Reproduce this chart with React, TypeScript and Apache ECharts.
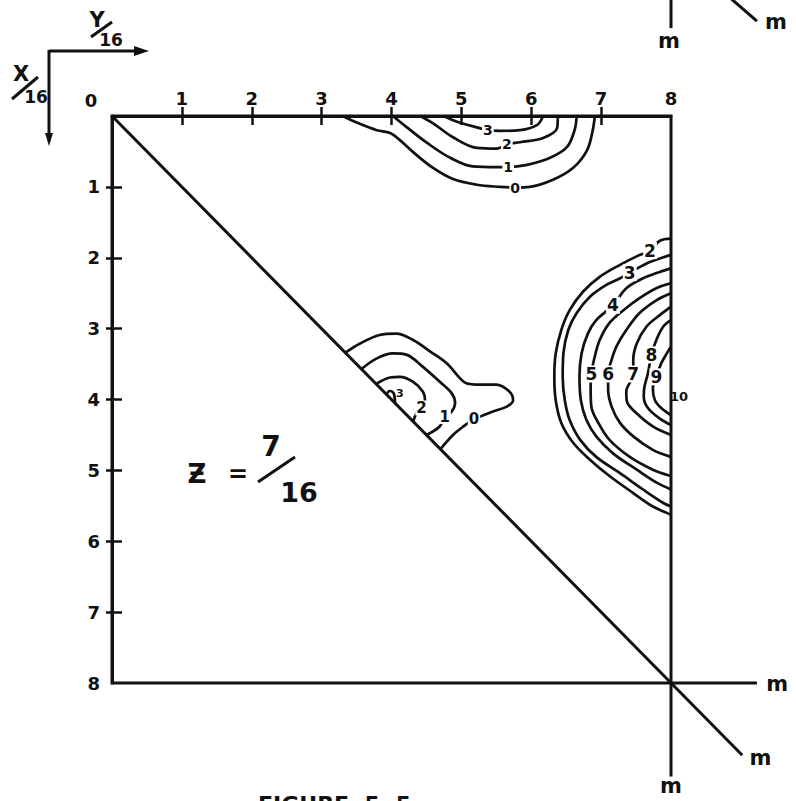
import { useEffect, useRef } from "react";
import * as echarts from "echarts";

// Coordinates are [y/16 (across the top), x/16 (down the side)].
type Pt = [number, number];

const axisMin = 0;
const axisMax = 8;
const tickValues = [1, 2, 3, 4, 5, 6, 7];
const labelValues = [1, 2, 3, 4, 5, 6, 7, 8];

// Straight reference lines as [from across, from down, to across, to down]:
// the symmetry diagonal and the m-m lines at the corners
const referenceSegments: [number, number, number, number][] = [
  [0, 0, 9.02, 9.02],
  [8, 8, 9.23, 8],
  [8, 8, 8, 9.32],
  [8, -1.8, 8, -1.24],
  [8.69, -1.8, 9.23, -1.34],
];
const mLabelPoints: Pt[] = [[9.52, 8.02], [9.28, 9.06], [8.0, 9.46], [7.97, -1.06], [9.5, -1.33]];

// Peak along the top edge (levels 0-3)
const topContour0: Pt[] = [
  [3.3, 0], [3.52, 0.1], [3.79, 0.2], [3.98, 0.24], [4.12, 0.34], [4.31, 0.51], [4.59, 0.73],
  [4.88, 0.89], [5.22, 0.97], [5.55, 1.0], [5.77, 1.01], [5.98, 1.0], [6.31, 0.9], [6.6, 0.73],
  [6.8, 0.48], [6.88, 0.2], [6.91, 0],
];
const topContour1: Pt[] = [
  [4.02, 0], [4.22, 0.16], [4.51, 0.38], [4.84, 0.59], [5.16, 0.71], [5.51, 0.72], [5.67, 0.72],
  [5.94, 0.69], [6.27, 0.59], [6.51, 0.44], [6.62, 0.2], [6.65, 0],
];
const topContour2: Pt[] = [
  [4.41, 0], [4.59, 0.1], [4.88, 0.3], [5.22, 0.45], [5.51, 0.46], [5.65, 0.4], [5.84, 0.37],
  [6.17, 0.31], [6.37, 0.17], [6.38, 0],
];
const topContour3: Pt[] = [
  [4.74, 0], [4.94, 0.08], [5.22, 0.16], [5.38, 0.2], [5.55, 0.21], [5.84, 0.2], [6.08, 0.13],
  [6.17, 0],
];
const topLabels: [number, number, string][] = [
  [5.77, 1.01, "0"], [5.67, 0.72, "1"], [5.65, 0.4, "2"], [5.38, 0.2, "3"],
];

// Peak on the right edge (levels 2-10)
const rightContour2: Pt[] = [
  [8, 1.73], [7.84, 1.76], [7.7, 1.9], [7.53, 1.97], [7.27, 2.1], [6.98, 2.27], [6.74, 2.48],
  [6.55, 2.74], [6.43, 3.02], [6.35, 3.35], [6.33, 3.68], [6.35, 4.01], [6.43, 4.33], [6.6, 4.61],
  [6.84, 4.85], [7.12, 5.08], [7.46, 5.32], [7.74, 5.51], [7.94, 5.6], [8, 5.63],
];
const rightContour3: Pt[] = [
  [8, 1.96], [7.84, 2.01], [7.65, 2.08], [7.41, 2.21], [7.27, 2.29], [7.08, 2.38], [6.84, 2.55],
  [6.65, 2.78], [6.53, 3.02], [6.46, 3.35], [6.45, 3.68], [6.48, 4.01], [6.55, 4.29], [6.7, 4.57],
  [6.93, 4.81], [7.27, 5.04], [7.6, 5.27], [7.89, 5.46], [8, 5.51],
];
const rightContour4: Pt[] = [
  [8, 2.15], [7.84, 2.2], [7.6, 2.29], [7.36, 2.43], [7.17, 2.67], [6.93, 2.88], [6.81, 3.07],
  [6.72, 3.35], [6.69, 3.68], [6.71, 4.01], [6.79, 4.29], [6.93, 4.52], [7.17, 4.76], [7.51, 4.99],
  [7.79, 5.17], [8, 5.27],
];
const rightContour5: Pt[] = [
  [8, 2.36], [7.79, 2.43], [7.55, 2.57], [7.32, 2.74], [7.12, 2.92], [6.98, 3.16], [6.91, 3.39],
  [6.86, 3.64], [6.85, 3.86], [6.86, 4.1], [6.96, 4.33], [7.12, 4.57], [7.41, 4.81], [7.74, 4.99],
  [8, 5.08],
];
const rightContour6: Pt[] = [
  [8, 2.5], [7.79, 2.6], [7.55, 2.78], [7.36, 3.02], [7.22, 3.25], [7.15, 3.44], [7.1, 3.64],
  [7.1, 3.86], [7.15, 4.1], [7.27, 4.33], [7.46, 4.52], [7.74, 4.71], [8, 4.81],
];
const rightContour7: Pt[] = [
  [8, 2.69], [7.84, 2.81], [7.65, 2.97], [7.51, 3.21], [7.46, 3.44], [7.46, 3.64], [7.36, 3.89],
  [7.37, 4.03], [7.48, 4.17], [7.74, 4.38], [8, 4.5],
];
const rightContour8: Pt[] = [
  [8, 2.88], [7.89, 2.97], [7.79, 3.16], [7.72, 3.37], [7.67, 3.63], [7.62, 3.82], [7.61, 3.96],
  [7.67, 4.12], [7.84, 4.27], [8, 4.36],
];
const rightContour9: Pt[] = [
  [8, 3.25], [7.94, 3.35], [7.86, 3.49], [7.79, 3.68], [7.74, 3.84], [7.77, 4.01], [7.86, 4.12],
  [8, 4.22],
];
const rightLabels: [number, number, string][] = [
  [7.7, 1.9, "2"], [7.41, 2.21, "3"], [7.17, 2.67, "4"], [6.86, 3.64, "5"], [7.1, 3.64, "6"],
  [7.46, 3.64, "7"], [7.72, 3.37, "8"], [7.79, 3.68, "9"],
];
const peakLabel: [number, number, string][] = [[8, 3.96, "10"]];

// Ridge against the diagonal (levels 0-3)
const diagContour0: Pt[] = [
  [3.34, 3.34], [3.55, 3.21], [3.83, 3.09], [4.07, 3.07], [4.31, 3.16], [4.55, 3.32], [4.79, 3.49],
  [4.98, 3.7], [5.07, 3.77], [5.26, 3.79], [5.5, 3.79], [5.69, 3.89], [5.74, 4.01], [5.65, 4.1],
  [5.45, 4.17], [5.18, 4.28], [5.03, 4.38], [4.88, 4.5], [4.7, 4.7],
];
const diagContour1: Pt[] = [
  [3.57, 3.57], [3.79, 3.42], [4.02, 3.35], [4.22, 3.37], [4.45, 3.54], [4.69, 3.75], [4.86, 3.91],
  [4.91, 4.05], [4.86, 4.17], [4.76, 4.24], [4.69, 4.38], [4.5, 4.5],
];
const diagContour2: Pt[] = [
  [3.78, 3.78], [3.98, 3.69], [4.12, 3.68], [4.31, 3.75], [4.45, 3.89], [4.48, 4.01], [4.43, 4.12],
  [4.36, 4.19], [4.31, 4.31],
];
const diagContour3: Pt[] = [[3.93, 3.93], [3.97, 3.88], [4.03, 3.91], [4.05, 4.05]];
const diagLabels: [number, number, string][] = [
  [4.43, 4.12, "2"], [4.76, 4.24, "1"], [5.18, 4.28, "0"],
];
const diagSmallLabel: [number, number, string][] = [[4.12, 3.92, "3"]];

const INK = "#111";
const FONT = "DejaVu Sans";

const contourLine = (data: Pt[], width = 2.7) => ({
  type: "line",
  data,
  symbol: "none",
  smooth: 0.35,
  clip: false,
  silent: true,
  lineStyle: { color: INK, width },
  z: 3,
});

const labelSeries = (data: [number, number, string][], fontSize: number, extra: any = {}) => ({
  type: "scatter",
  data: data.map(([x, y, t]) => ({ value: [x, y], name: t })),
  symbolSize: 0,
  clip: false,
  silent: true,
  z: 6,
  itemStyle: { opacity: 1 },
  label: {
    show: true,
    position: "inside",
    formatter: (p: any) => p.name,
    color: INK,
    fontSize,
    fontWeight: "bold",
    fontFamily: FONT,
    backgroundColor: "#fff",
    padding: [0, 1],
    ...extra,
  },
});

const tickStyle = { color: INK, width: 2.5 };

const option: any = {
  animation: false,
  backgroundColor: "#fff",
  grid: {
    left: 112,
    top: 116,
    width: 559,
    height: 567,
    show: true,
    borderColor: INK,
    borderWidth: 3,
    backgroundColor: "transparent",
  },
  xAxis: [
    {
      type: "value",
      position: "top",
      min: axisMin,
      max: axisMax,
      interval: 1,
      axisLine: { show: true, onZero: false, lineStyle: { color: INK, width: 3 } },
      axisTick: { show: true, inside: false, length: 9, customValues: tickValues, lineStyle: tickStyle },
      axisLabel: {
        show: true,
        customValues: labelValues,
        margin: 9,
        color: INK,
        fontSize: 18,
        fontWeight: "bold",
        fontFamily: FONT,
      },
      splitLine: { show: false },
    },
    {
      type: "value",
      position: "top",
      min: axisMin,
      max: axisMax,
      interval: 1,
      axisLine: { show: false, onZero: false },
      axisTick: { show: true, inside: true, length: 9, customValues: tickValues, lineStyle: tickStyle },
      axisLabel: { show: false },
      splitLine: { show: false },
    },
  ],
  yAxis: [
    {
      type: "value",
      inverse: true,
      position: "left",
      min: axisMin,
      max: axisMax,
      interval: 1,
      axisLine: { show: true, onZero: false, lineStyle: { color: INK, width: 3 } },
      axisTick: { show: true, inside: false, length: 6, customValues: tickValues, lineStyle: tickStyle },
      axisLabel: {
        show: true,
        customValues: labelValues,
        margin: 12,
        color: INK,
        fontSize: 18,
        fontWeight: "bold",
        fontFamily: FONT,
      },
      splitLine: { show: false },
    },
    {
      type: "value",
      inverse: true,
      position: "left",
      min: axisMin,
      max: axisMax,
      interval: 1,
      axisLine: { show: false, onZero: false },
      axisTick: { show: true, inside: true, length: 10, customValues: tickValues, lineStyle: tickStyle },
      axisLabel: { show: false },
      splitLine: { show: false },
    },
  ],
  graphic: [
    // origin label shared by both axes
    { type: "text", x: 91, y: 100, style: { text: "0", fill: INK, font: `bold 18px '${FONT}'`, align: "center", verticalAlign: "middle" } },
    // direction arrows: y/16 across, x/16 down
    { type: "line", shape: { x1: 49, y1: 51, x2: 140, y2: 51 }, style: { stroke: INK, lineWidth: 3 } },
    { type: "polygon", shape: { points: [[134, 46], [149, 51], [134, 56]] }, style: { fill: INK } },
    { type: "line", shape: { x1: 49, y1: 50, x2: 49, y2: 134 }, style: { stroke: INK, lineWidth: 3 } },
    { type: "polygon", shape: { points: [[45, 133], [53, 133], [49, 146]] }, style: { fill: INK } },
    { type: "text", x: 97, y: 20, style: { text: "Y", fill: INK, font: `bold 21px '${FONT}'`, align: "center", verticalAlign: "middle" } },
    { type: "line", shape: { x1: 91, y1: 37, x2: 112, y2: 22 }, style: { stroke: INK, lineWidth: 3 } },
    { type: "text", x: 111, y: 40, style: { text: "16", fill: INK, font: `bold 17px '${FONT}'`, align: "center", verticalAlign: "middle" } },
    { type: "text", x: 21, y: 74, style: { text: "X", fill: INK, font: `bold 21px '${FONT}'`, align: "center", verticalAlign: "middle" } },
    { type: "line", shape: { x1: 12, y1: 99, x2: 38, y2: 77 }, style: { stroke: INK, lineWidth: 3 } },
    { type: "text", x: 36, y: 97, style: { text: "16", fill: INK, font: `bold 17px '${FONT}'`, align: "center", verticalAlign: "middle" } },
    // section height
    { type: "text", x: 197, y: 474, style: { text: "\u01B5", fill: INK, font: `bold 26px '${FONT}'`, align: "center", verticalAlign: "middle" } },
    { type: "text", x: 238, y: 474, style: { text: "=", fill: INK, font: `bold 24px '${FONT}'`, align: "center", verticalAlign: "middle" } },
    { type: "text", x: 271, y: 446, style: { text: "7", fill: INK, font: `bold 28px '${FONT}'`, align: "center", verticalAlign: "middle" } },
    { type: "line", shape: { x1: 258, y1: 482, x2: 295, y2: 457 }, style: { stroke: INK, lineWidth: 3 } },
    { type: "text", x: 299, y: 492, style: { text: "16", fill: INK, font: `bold 27px '${FONT}'`, align: "center", verticalAlign: "middle" } },
    // caption, cut by the bottom edge
    { type: "text", x: 258, y: 793, style: { text: "FIGURE  5. 5", fill: INK, font: `bold 22px '${FONT}'`, align: "left", verticalAlign: "top" } },
  ],
  series: [
    {
      type: "custom",
      data: referenceSegments,
      encode: { x: [0, 2], y: [1, 3] },
      clip: false,
      silent: true,
      z: 3,
      renderItem: (_params: any, api: any) => {
        const a = api.coord([api.value(0), api.value(1)]);
        const b = api.coord([api.value(2), api.value(3)]);
        return {
          type: "line",
          shape: { x1: a[0], y1: a[1], x2: b[0], y2: b[1] },
          style: { stroke: INK, lineWidth: 3, fill: "none" },
        };
      },
    },
    contourLine(topContour0),
    contourLine(topContour1),
    contourLine(topContour2),
    contourLine(topContour3),
    contourLine(rightContour2),
    contourLine(rightContour3),
    contourLine(rightContour4),
    contourLine(rightContour5),
    contourLine(rightContour6),
    contourLine(rightContour7),
    contourLine(rightContour8),
    contourLine(rightContour9),
    contourLine(diagContour0),
    contourLine(diagContour1),
    contourLine(diagContour2),
    contourLine(diagContour3),
    labelSeries(topLabels, 14),
    labelSeries(rightLabels, 17),
    labelSeries(diagLabels, 15),
    labelSeries(diagSmallLabel, 11, { backgroundColor: "transparent" }),
    labelSeries(peakLabel, 13, { backgroundColor: "transparent", position: "right", distance: -2 }),
    {
      type: "scatter",
      data: mLabelPoints,
      symbolSize: 0,
      clip: false,
      silent: true,
      itemStyle: { opacity: 1 },
      label: {
        show: true,
        position: "inside",
        formatter: "m",
        color: INK,
        fontSize: 21,
        fontWeight: "bold",
        fontFamily: FONT,
      },
    },
  ],
};

export default function App() {
  const ref = useRef<HTMLDivElement>(null);
  useEffect(() => {
    document.body.style.margin = "0";
    const chart = echarts.init(ref.current!, null, { renderer: "svg" });
    chart.setOption(option);
    return () => chart.dispose();
  }, []);
  return <div ref={ref} style={{ width: 796, height: 801, background: "#fff" }} />;
}
